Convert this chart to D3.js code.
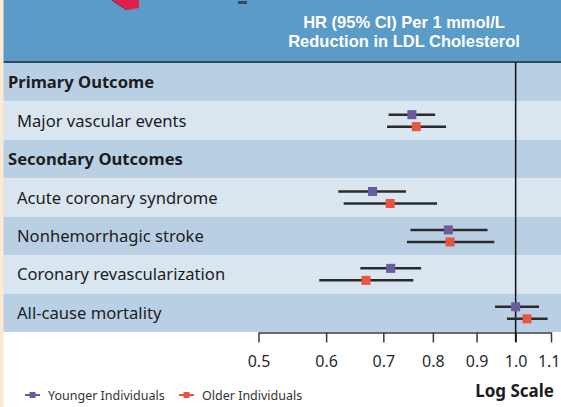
<!DOCTYPE html>
<html>
<head>
<meta charset="utf-8">
<script src="https://cdn.jsdelivr.net/npm/d3@7"></script>
<style>
  html, body { margin: 0; padding: 0; background: #fff; }
  svg { display: block; font-family: "Noto Sans", sans-serif; }
</style>
</head>
<body>
<svg id="chart" width="561" height="407"></svg>
<script>
// rows of the table, top to bottom
const rowLabels = [
  "Primary Outcome",
  "Major vascular events",
  "Secondary Outcomes",
  "Acute coronary syndrome",
  "Nonhemorrhagic stroke",
  "Coronary revascularization",
  "All-cause mortality"
];
const headerRows = ["Primary Outcome", "Secondary Outcomes"];

// outcomes with estimates
const outcomes = [
  "Major vascular events",
  "Acute coronary syndrome",
  "Nonhemorrhagic stroke",
  "Coronary revascularization",
  "All-cause mortality"
];
const youngerHR = [0.756, 0.680, 0.834, 0.714, 1.000];
const youngerLo = [0.710, 0.620, 0.753, 0.658, 0.946];
const youngerHi = [0.805, 0.744, 0.927, 0.775, 1.065];
const olderHR = [0.765, 0.713, 0.838, 0.668, 1.031];
const olderLo = [0.707, 0.629, 0.746, 0.589, 0.977];
const olderHi = [0.829, 0.809, 0.944, 0.759, 1.090];

const tickValues = [0.5, 0.6, 0.7, 0.8, 0.9, 1.0, 1.1];
const tickLabels = ["0.5", "0.6", "0.7", "0.8", "0.9", "1.0", "1.1"];

const seriesNames = ["Younger Individuals", "Older Individuals"];
const titleLines = ["HR (95% CI) Per 1 mmol/L", "Reduction in LDL Cholesterol"];

// colours
const HEADER_BLUE = "#5b9bc8";
const DARK_ROW = "#b9d0e4";
const LIGHT_ROW = "#d9e5ef";
const BEIGE = "#fde9d2";
const TEXT = "#1e1c1d";
const YOUNG_COL = "#6a5ba0";
const OLD_COL = "#e9553f";

const svg = d3.select("#chart");

const x = d3.scaleLog().domain([0.5, 1.1]).range([258.5, 551]);
const y = d3.scaleBand().domain(rowLabels).range([63, 332]);
const seriesOffset = d3.scalePoint().domain(seriesNames).range([-6, 6]);

// header block
svg.append("rect")
  .attr("x", 0).attr("y", 0)
  .attr("width", 561).attr("height", 62)
  .attr("fill", HEADER_BLUE);

// leftovers of the cropped figure above
svg.append("polygon")
  .attr("points", "113,0 139,0 139,8 128,10")
  .attr("fill", "#e0204a");
svg.append("polygon")
  .attr("points", "113,0 128,10 126,10 111,0")
  .attr("fill", "#9c1a35");
svg.append("rect")
  .attr("x", 238).attr("y", 1).attr("width", 9).attr("height", 3)
  .attr("fill", "#34495e");

// two-line column title (tighter font metrics so the lines sit close)
svg.append("g")
  .selectAll("text")
  .data(titleLines)
  .join("text")
  .attr("x", 404)
  .attr("y", (d, i) => 28 + i * 19)
  .attr("text-anchor", "middle")
  .attr("fill", "#fff")
  .attr("font-family", "Liberation Sans, Arial, sans-serif")
  .attr("font-weight", "bold")
  .attr("font-size", 16.5)
  .text(d => d);

svg.append("rect")
  .attr("x", 0).attr("y", 61)
  .attr("width", 561).attr("height", 2)
  .attr("fill", "#2f4a63");

// row bands
svg.append("g")
  .selectAll("rect")
  .data(rowLabels)
  .join("rect")
  .attr("x", 0)
  .attr("y", d => y(d))
  .attr("width", 561)
  .attr("height", y.bandwidth())
  .attr("fill", (d, i) => i % 2 === 0 ? DARK_ROW : LIGHT_ROW);

svg.append("g")
  .selectAll("text")
  .data(rowLabels)
  .join("text")
  .attr("x", d => headerRows.includes(d) ? 8 : 17)
  .attr("y", d => y(d) + y.bandwidth() / 2 + 6)
  .attr("fill", TEXT)
  .attr("font-size", 16.6)
  .attr("font-weight", d => headerRows.includes(d) ? "bold" : "normal")
  .text(d => d);

// axis
const axis = svg.append("g")
  .attr("transform", "translate(0,332.5)")
  .call(d3.axisBottom(x)
    .tickValues(tickValues)
    .tickFormat((d, i) => tickLabels[i])
    .tickSize(10)
    .tickSizeOuter(0));
axis.select(".domain").attr("stroke", "#3a3a3a").attr("stroke-width", 1.5);
axis.selectAll(".tick line").attr("stroke", "#3a3a3a").attr("stroke-width", 1.5);
axis.selectAll(".tick text")
  .attr("y", 34)
  .attr("dy", null)
  .attr("fill", "#2a2a2a")
  .attr("font-size", 16)
  .attr("font-family", "Noto Sans, sans-serif");
// keep the last label inside the page
axis.selectAll(".tick text")
  .filter((d, i) => i === tickValues.length - 1)
  .attr("text-anchor", "end")
  .attr("x", 560 - x(tickValues[tickValues.length - 1]));

// reference line at HR = 1
svg.append("line")
  .attr("x1", x(1)).attr("x2", x(1))
  .attr("y1", 62).attr("y2", 342)
  .attr("stroke", "#111")
  .attr("stroke-width", 1.5);

// estimates
const series = [
  { name: seriesNames[0], color: YOUNG_COL, hr: youngerHR, lo: youngerLo, hi: youngerHi },
  { name: seriesNames[1], color: OLD_COL, hr: olderHR, lo: olderLo, hi: olderHi }
];

const SQ = 9;
series.forEach(s => {
  const g = svg.append("g");
  const pts = outcomes.map((o, i) => ({
    cy: y(o) + y.bandwidth() / 2 + seriesOffset(s.name),
    hr: s.hr[i], lo: s.lo[i], hi: s.hi[i]
  }));
  g.selectAll("line")
    .data(pts)
    .join("line")
    .attr("x1", d => x(d.lo))
    .attr("x2", d => x(d.hi))
    .attr("y1", d => d.cy)
    .attr("y2", d => d.cy)
    .attr("stroke", "#2b2b2b")
    .attr("stroke-width", 2.5);
  g.selectAll("rect")
    .data(pts)
    .join("rect")
    .attr("x", d => x(d.hr) - SQ / 2)
    .attr("y", d => d.cy - SQ / 2)
    .attr("width", SQ)
    .attr("height", SQ)
    .attr("fill", s.color);
});

// legend
const legendX = [25, 179];
const legend = svg.append("g")
  .selectAll("g")
  .data(series)
  .join("g")
  .attr("transform", (d, i) => `translate(${legendX[i]},395)`);
legend.append("line")
  .attr("x1", 0).attr("x2", 15)
  .attr("stroke", d => d.color)
  .attr("stroke-width", 2);
legend.append("rect")
  .attr("x", 4.5).attr("y", -3)
  .attr("width", 6).attr("height", 6)
  .attr("fill", d => d.color);
legend.append("text")
  .attr("x", 23).attr("y", 4.5)
  .attr("fill", "#333")
  .attr("font-size", 12.5)
  .text(d => d.name);

svg.append("text")
  .attr("x", 554).attr("y", 397)
  .attr("text-anchor", "end")
  .attr("fill", TEXT)
  .attr("font-size", 17)
  .attr("font-weight", "bold")
  .text("Log Scale");

// beige strip at the left edge
svg.append("rect")
  .attr("x", 0).attr("y", 0)
  .attr("width", 3.5).attr("height", 407)
  .attr("fill", BEIGE);
</script>
</body>
</html>
